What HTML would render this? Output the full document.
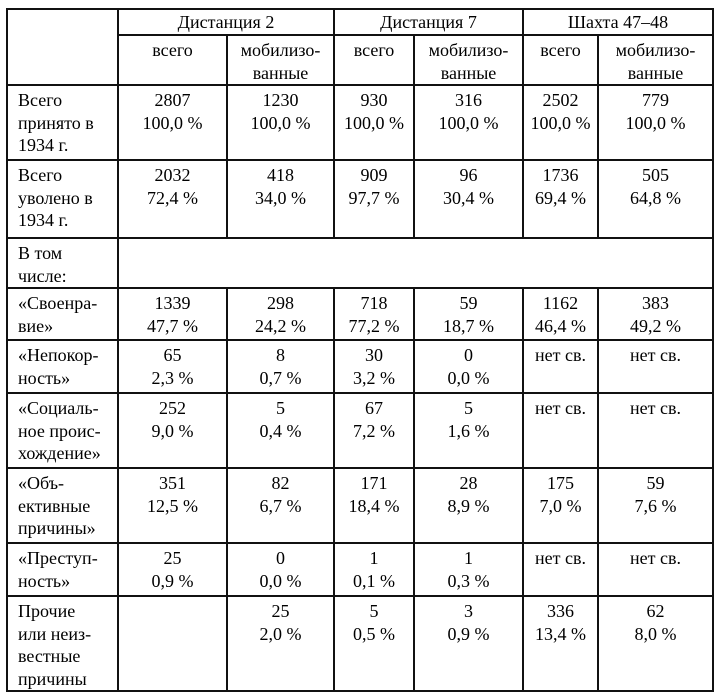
<!DOCTYPE html>
<html><head><meta charset="utf-8"><style>
html,body{margin:0;padding:0;background:#fff;width:720px;height:697px;overflow:hidden}
table{position:absolute;left:6px;top:8px;border-collapse:collapse;table-layout:fixed;
font-family:"Liberation Serif","DejaVu Serif",serif;font-size:18px;line-height:22.5px;color:#000}
td{border:2px solid #111;vertical-align:top;padding:3px 0 0 0;text-align:center;overflow:hidden;white-space:nowrap}
td.l{text-align:left;padding-left:10px}
</style></head><body>
<table>
<colgroup><col style="width:111px"><col style="width:109px"><col style="width:107px"><col style="width:80px"><col style="width:109px"><col style="width:75px"><col style="width:115px"></colgroup>
<tr style="height:26px"><td rowspan="2"></td><td colspan="2" style="padding-top:1px">Дистанция 2</td><td colspan="2" style="padding-top:1px">Дистанция 7</td><td colspan="2" style="padding-top:1px">Шахта 47–48</td></tr>
<tr style="height:50px"><td>всего</td><td>мобилизо-<br>ванные</td><td>всего</td><td>мобилизо-<br>ванные</td><td>всего</td><td>мобилизо-<br>ванные</td></tr>
<tr style="height:75px"><td class="l">Всего<br>принято в<br>1934 г.</td><td>2807<br>100,0 %</td><td>1230<br>100,0 %</td><td>930<br>100,0 %</td><td>316<br>100,0 %</td><td>2502<br>100,0 %</td><td>779<br>100,0 %</td></tr>
<tr style="height:78px"><td class="l">Всего<br>уволено в<br>1934 г.</td><td>2032<br>72,4 %</td><td>418<br>34,0 %</td><td>909<br>97,7 %</td><td>96<br>30,4 %</td><td>1736<br>69,4 %</td><td>505<br>64,8 %</td></tr>
<tr style="height:49px"><td class="l">В том<br>числе:</td><td colspan="6"></td></tr>
<tr style="height:52px"><td class="l">«Своенра-<br>вие»</td><td>1339<br>47,7 %</td><td>298<br>24,2 %</td><td>718<br>77,2 %</td><td>59<br>18,7 %</td><td>1162<br>46,4 %</td><td>383<br>49,2 %</td></tr>
<tr style="height:53px"><td class="l">«Непокор-<br>ность»</td><td>65<br>2,3 %</td><td>8<br>0,7 %</td><td>30<br>3,2 %</td><td>0<br>0,0 %</td><td>нет св.</td><td>нет св.</td></tr>
<tr style="height:75px"><td class="l">«Социаль-<br>ное проис-<br>хождение»</td><td>252<br>9,0 %</td><td>5<br>0,4 %</td><td>67<br>7,2 %</td><td>5<br>1,6 %</td><td>нет св.</td><td>нет св.</td></tr>
<tr style="height:75px"><td class="l">«Объ-<br>ективные<br>причины»</td><td>351<br>12,5 %</td><td>82<br>6,7 %</td><td>171<br>18,4 %</td><td>28<br>8,9 %</td><td>175<br>7,0 %</td><td>59<br>7,6 %</td></tr>
<tr style="height:53px"><td class="l">«Преступ-<br>ность»</td><td>25<br>0,9 %</td><td>0<br>0,0 %</td><td>1<br>0,1 %</td><td>1<br>0,3 %</td><td>нет св.</td><td>нет св.</td></tr>
<tr style="height:91px"><td class="l">Прочие<br>или неиз-<br>вестные<br>причины</td><td></td><td>25<br>2,0 %</td><td>5<br>0,5 %</td><td>3<br>0,9 %</td><td>336<br>13,4 %</td><td>62<br>8,0 %</td></tr>
</table>
</body></html>
